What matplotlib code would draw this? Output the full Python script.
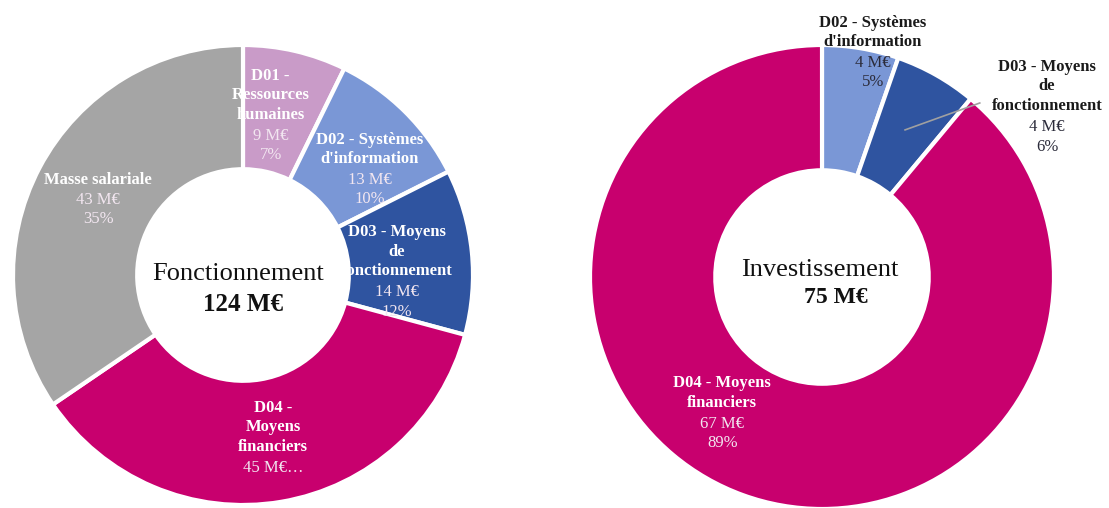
import matplotlib
matplotlib.use("Agg")
from matplotlib import pyplot as plt

plt.rcParams['font.family'] = ['Liberation Serif', 'DejaVu Serif']

# Fonctionnement
fonc_names = ['D01 -\nRessources\nhumaines', 'D02 - Systèmes\nd\'information', 'D03 - Moyens\nde\nfonctionnement',
              'D04 -\nMoyens\nfinanciers', 'Masse salariale']
fonc_values = [9.0, 12.8, 14.4, 45.0, 42.8]
fonc_amounts = ['9 M€\n7%', '13 M€\n10%', '14 M€\n12%', '45 M€…', '43 M€\n35%']
fonc_colors = ['#C99BC8', '#7A97D6', '#2F54A0', '#C8006E', '#A5A5A5']

# Investissement
inv_names = ['D02 - Systèmes\nd\'information', 'D03 - Moyens\nde\nfonctionnement', 'D04 - Moyens\nfinanciers']
inv_values = [4.0, 4.3, 66.7]
inv_amounts = ['4 M€\n5%', '4 M€\n6%', '67 M€\n89%']
inv_colors = ['#7A97D6', '#2F54A0', '#C8006E']

W, H = 1109, 508
fig = plt.figure(figsize=(W / 100, H / 100), dpi=100)

ax1 = fig.add_axes([13 / W, 3 / H, 460 / W, 460 / H])
ax2 = fig.add_axes([590 / W, -1 / H, 464 / W, 464 / H])

for ax, vals, cols in [(ax1, fonc_values, fonc_colors), (ax2, inv_values, inv_colors)]:
    ax.pie(vals, colors=cols, startangle=90, counterclock=False, radius=1,
           wedgeprops=dict(width=0.54, edgecolor='white', linewidth=3))
    ax.set_xlim(-1, 1)
    ax.set_ylim(-1, 1)
    ax.set_aspect('equal')
    ax.axis('off')


def label(ax, x, y, name, amount, color, color2):
    # one line is about 20 px, the axes is 460 px for 2 data units
    nlines = name.count('\n') + 1
    alines = amount.count('\n') + 1
    total = nlines + alines
    step = 20 / 230
    top = y + (total - 1) * step / 2 + step * 0.3
    ax.text(x, top, name, ha='center', va='top', fontsize=12, fontweight='bold',
            color=color, linespacing=1.28, clip_on=False)
    ax.text(x, top - nlines * step, amount, ha='center', va='top', fontsize=12,
            color=color2, linespacing=1.28, clip_on=False)


fpos = [(0.12, 0.70), (0.55, 0.465), (0.67, 0.02), (0.13, -0.70), (-0.63, 0.335)]
for (x, y), n, a in zip(fpos, fonc_names, fonc_amounts):
    label(ax1, x, y, n, a, 'white', '#F2E6F0')

ipos = [(0.22, 0.974), (0.97, 0.74), (-0.43, -0.58)]
icolors = [('#1A1A1A', '#2B2B3A'), ('#1A1A1A', '#2B2B3A'), ('white', '#F2E6F0')]
for (x, y), n, a, (c1, c2) in zip(ipos, inv_names, inv_amounts, icolors):
    label(ax2, x, y, n, a, c1, c2)

# leader line for D03 on Investissement
ax2.plot([0.358, 0.68], [0.634, 0.75], color='#A0A0A0', linewidth=1.2, clip_on=False)

ax1.text(-0.02, 0.005, 'Fonctionnement', ha='center', va='center', fontsize=19, color='#111111')
ax1.text(0.0, -0.13, '124 M€', ha='center', va='center', fontsize=18, fontweight='bold', color='#111111')
ax2.text(-0.01, 0.03, 'Investissement', ha='center', va='center', fontsize=19, color='#111111')
ax2.text(0.06, -0.09, '75 M€', ha='center', va='center', fontsize=17, fontweight='bold', color='#111111')

fig.savefig('out.png', dpi=100, facecolor='white')
